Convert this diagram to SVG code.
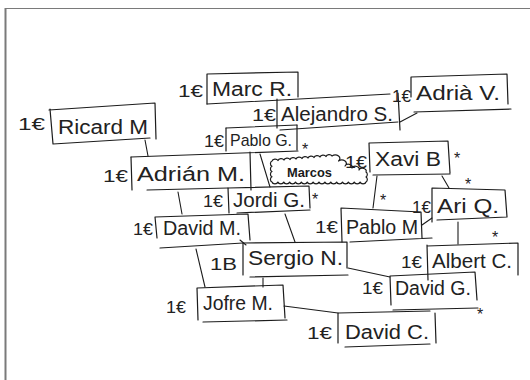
<svg xmlns="http://www.w3.org/2000/svg" width="530" height="380" viewBox="0 0 530 380">
  <style>
    .frame { fill: none; stroke: #7a7a7a; }
    .box { fill: none; stroke: #1c1c1c; stroke-width: 1.2; stroke-linejoin: round; stroke-linecap: round; }
    .link { fill: none; stroke: #1c1c1c; stroke-width: 1.1; stroke-linecap: round; }
    .name { font-family: "Liberation Sans", Arial, sans-serif; font-size: 20px; fill: #222222; }
    .name.small { font-size: 17px; }
    .eur { font-family: "Liberation Sans", Arial, sans-serif; font-size: 16px; fill: #222222; }
    .star { font-family: "Liberation Sans", Arial, sans-serif; font-size: 16px; fill: #222222; }
    .tag { font-family: "Liberation Sans", Arial, sans-serif; font-size: 13px; font-weight: bold; fill: #1a1a1a; }
  </style>

  <rect width="530" height="380" fill="#ffffff"/>
  <!-- page edges -->
  <path class="frame" d="M5,8.5 H530" stroke-width="1.2"/>
  <path class="frame" d="M5.5,8 V380" stroke-width="2"/>

  <!-- connectors -->
  <g id="connectors">
    <path class="link" d="M207,104 L390,94"/>
    <path class="link" d="M226,128 L297,125 M280,130 L398,122"/>
    <path class="link" d="M400,122 L417,113"/>
    <path class="link" d="M131,157 L298,151"/>
    <path class="link" d="M145,140 L148,156"/>
    <path class="link" d="M147,190 L228,188"/>
    <path class="link" d="M178,192 L182,214"/>
    <path class="link" d="M260,154 L270,187"/>
    <path class="link" d="M377,176 L373,208"/>
    <path class="link" d="M442,176 L449,188"/>
    <path class="link" d="M422,225 L432,218"/>
    <path class="link" d="M458,222 L458,244"/>
    <path class="link" d="M285,214 L295,242"/>
    <path class="link" d="M240,240 L246,245"/>
    <path class="link" d="M196,249 Q200,266 205,287"/>
    <path class="link" d="M263,278 L263,287"/>
    <path class="link" d="M348,268 L390,277"/>
    <path class="link" d="M284,306 L338,313"/>
  </g>

  <g id="ricard">
    <text class="eur" x="18" y="130" textLength="27" lengthAdjust="spacingAndGlyphs">1€</text>
    <path class="box" d="M49,110 L155,103 L156,139 M53,144 L150,138 M50,109 L53,144"/>
    <text class="name" x="58" y="134" textLength="90" lengthAdjust="spacingAndGlyphs">Ricard M</text>
  </g>

  <g id="marc">
    <text class="eur" x="178" y="97" textLength="25" lengthAdjust="spacingAndGlyphs">1€</text>
    <path class="box" d="M207,104 L207,74 L298,72 L298,97"/>
    <text class="name" x="212" y="96" textLength="80" lengthAdjust="spacingAndGlyphs">Marc R.</text>
  </g>

  <g id="alejandro">
    <text class="eur" x="252" y="121" textLength="24" lengthAdjust="spacingAndGlyphs">1€</text>
    <path class="box" d="M277,99 L277,128 M398,93 L400,130"/>
    <text class="name" x="281" y="121" textLength="112" lengthAdjust="spacingAndGlyphs">Alejandro S.</text>
  </g>

  <g id="adria">
    <text class="eur" x="392" y="102" textLength="19" lengthAdjust="spacingAndGlyphs">1€</text>
    <path class="box" d="M411,97 L411,77 L507,74 L508,104 M414,112 L511,109"/>
    <text class="name" x="416" y="100" textLength="84" lengthAdjust="spacingAndGlyphs">Adrià V.</text>
  </g>

  <g id="pablo-g">
    <text class="eur" x="204" y="147" textLength="20" lengthAdjust="spacingAndGlyphs">1€</text>
    <path class="box" d="M226,128 L226,151 M297,125 L297,150"/>
    <text class="name small" x="230" y="146" textLength="62" lengthAdjust="spacingAndGlyphs">Pablo G.</text>
    <text class="star" x="302" y="155">*</text>
  </g>

  <g id="adrian">
    <text class="eur" x="103" y="182" textLength="25" lengthAdjust="spacingAndGlyphs">1€</text>
    <path class="box" d="M131,157 L132,190 M250,152 L251,190"/>
    <text class="name" x="137" y="181" textLength="108" lengthAdjust="spacingAndGlyphs">Adrián M.</text>
  </g>

  <g id="marcos">
    <path class="box" stroke-width="1.1" d="M272,161
      a3.2,2.4 0 0 1 6,-0.5 a3.2,2.4 0 0 1 6,-0.5 a3.2,2.4 0 0 1 6,-0.5 a3.2,2.4 0 0 1 6,-0.5 a3.2,2.4 0 0 1 6,-0.5
      a3.2,2.4 0 0 1 6,-0.5 a3.2,2.4 0 0 1 6,-0.5 a3.2,2.4 0 0 1 6,-0.5 a3.2,2.4 0 0 1 6,-0.5 a3.2,2.4 0 0 1 6,-0.5
      a4,3 0 0 1 6.5,5 a4,3 0 0 1 6.5,5
      a3.6,2.6 0 0 1 7,2 a3.6,2.6 0 0 1 7,2 a3.6,2.6 0 0 1 7,2
      a2.4,2.8 0 0 1 0,5 a2.4,2.8 0 0 1 0,5
      a3,2.4 0 0 1 -5.875,0 a3,2.4 0 0 1 -5.875,0 a3,2.4 0 0 1 -5.875,0 a3,2.4 0 0 1 -5.875,0
      a3,2.4 0 0 1 -5.875,0 a3,2.4 0 0 1 -5.875,0 a3,2.4 0 0 1 -5.875,0 a3,2.4 0 0 1 -5.875,0
      a3,2.4 0 0 1 -5.875,0 a3,2.4 0 0 1 -5.875,0 a3,2.4 0 0 1 -5.875,0 a3,2.4 0 0 1 -5.875,0
      a3,2.4 0 0 1 -5.875,0 a3,2.4 0 0 1 -5.875,0 a3,2.4 0 0 1 -5.875,0 a3,2.4 0 0 1 -5.875,0
      a2.4,2.8 0 0 1 0,-5.25 a2.4,2.8 0 0 1 0,-5.25 a2.4,2.8 0 0 1 0,-5.25 a2.4,2.8 0 0 1 0,-5.25 Z"/>
    <text class="tag" x="287" y="177" textLength="45" lengthAdjust="spacingAndGlyphs">Marcos</text>
  </g>

  <g id="xavi">
    <text class="eur" x="345" y="168" textLength="22" lengthAdjust="spacingAndGlyphs">1€</text>
    <path class="box" d="M370,172 L369,143 L448,141 L450,173 M373,175 L450,174"/>
    <text class="name" x="375" y="166" textLength="66" lengthAdjust="spacingAndGlyphs">Xavi B</text>
    <text class="star" x="454" y="164">*</text>
  </g>

  <g id="jordi">
    <text class="eur" x="203" y="207" textLength="20" lengthAdjust="spacingAndGlyphs">1€</text>
    <path class="box" d="M229,213 L228,188 L309,186 L310,208 M237,213 L310,210"/>
    <text class="name" x="233" y="207" textLength="72" lengthAdjust="spacingAndGlyphs">Jordi G.</text>
    <text class="star" x="312" y="205">*</text>
  </g>

  <g id="david-m">
    <text class="eur" x="133" y="235" textLength="20" lengthAdjust="spacingAndGlyphs">1€</text>
    <path class="box" d="M157,238 L155,217 L248,214 L250,240 M160,248 L243,243"/>
    <text class="name" x="163" y="235" textLength="78" lengthAdjust="spacingAndGlyphs">David M.</text>
  </g>

  <g id="pablo-m">
    <text class="eur" x="315" y="233" textLength="23" lengthAdjust="spacingAndGlyphs">1€</text>
    <path class="box" d="M342,242 L341,208 L421,212 L422,238 M350,242 L432,238"/>
    <text class="name" x="346" y="234" textLength="72" lengthAdjust="spacingAndGlyphs">Pablo M</text>
    <text class="star" x="380" y="206">*</text>
  </g>

  <g id="ari">
    <text class="eur" x="412" y="213" textLength="19" lengthAdjust="spacingAndGlyphs">1€</text>
    <path class="box" d="M432,222 L432,188 L505,190 L507,217 M437,220 L507,217"/>
    <text class="name" x="437" y="213" textLength="62" lengthAdjust="spacingAndGlyphs">Ari Q.</text>
    <text class="star" x="465" y="190">*</text>
  </g>

  <g id="sergio">
    <text class="eur" x="210" y="270" textLength="27" lengthAdjust="spacingAndGlyphs">1B</text>
    <path class="box" d="M243,275 L243,243 L347,242 L347,268 M250,277 L348,275"/>
    <text class="name" x="248" y="265" textLength="95" lengthAdjust="spacingAndGlyphs">Sergio N.</text>
  </g>

  <g id="albert">
    <text class="eur" x="401" y="268" textLength="21" lengthAdjust="spacingAndGlyphs">1€</text>
    <path class="box" d="M427,245 L428,280 M427,246 L518,243 L518,275"/>
    <text class="name" x="432" y="268" textLength="80" lengthAdjust="spacingAndGlyphs">Albert C.</text>
    <text class="star" x="492" y="243">*</text>
  </g>

  <g id="jofre">
    <text class="eur" x="166" y="313" textLength="20" lengthAdjust="spacingAndGlyphs">1€</text>
    <path class="box" d="M198,320 L197,288 L283,285 L285,318 M203,322 L287,320"/>
    <text class="name" x="203" y="310" textLength="70" lengthAdjust="spacingAndGlyphs">Jofre M.</text>
  </g>

  <g id="david-g">
    <text class="eur" x="362" y="294" textLength="21" lengthAdjust="spacingAndGlyphs">1€</text>
    <path class="box" d="M391,305 L390,276 L475,272 L477,300 M393,310 L478,308"/>
    <text class="name" x="395" y="295" textLength="76" lengthAdjust="spacingAndGlyphs">David G.</text>
    <text class="star" x="477" y="320">*</text>
  </g>

  <g id="david-c">
    <text class="eur" x="307" y="339" textLength="25" lengthAdjust="spacingAndGlyphs">1€</text>
    <path class="box" d="M338,343 L338,313 L430,311 M435,313 L436,343 M345,347 L430,344"/>
    <text class="name" x="345" y="339" textLength="84" lengthAdjust="spacingAndGlyphs">David C.</text>
  </g>
</svg>
